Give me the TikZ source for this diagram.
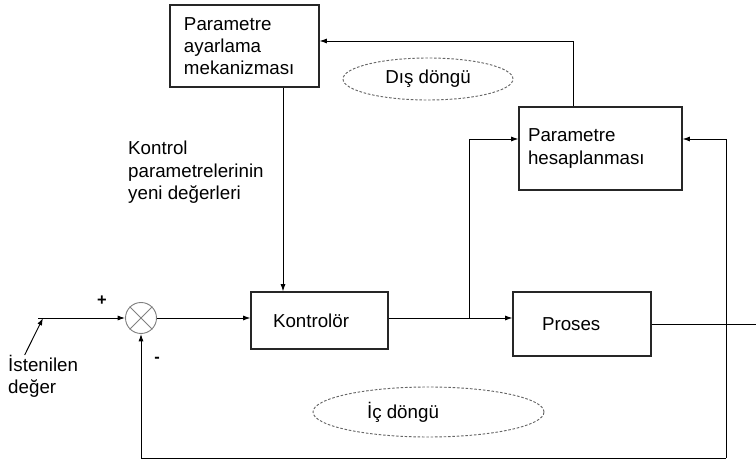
\documentclass[tikz,border=0pt]{standalone}
\usepackage{fontspec}
\setmainfont{Liberation Sans}
\usetikzlibrary{arrows.meta,shapes.geometric}

\begin{document}
\begin{tikzpicture}[x=0.03cm, y=-0.03cm, >={Latex[length=2.2mm,width=1.5mm]}]
		\tikzstyle{every node}=[font=\fontsize{16pt}{19pt}\selectfont]
		\tikzstyle{blok}=[draw=black!85, line width=0.9pt, align=left, inner ysep=0pt]
		\tikzstyle{dongu}=[draw=black!60, ellipse, dash pattern=on 2.2pt off 1.5pt, line width=0.8pt, inner sep=0pt]
		\tikzstyle{hat}=[line width=0.8pt]
		\useasboundingbox (0,0) rectangle (756,461);

		\node [blok, text width=3.63cm, inner xsep=0.42cm, minimum height=2.46cm] (ayar) at (244.5,46) {Parametre\\ayarlama\\mekanizması};
		\node [blok, text width=4.35cm, inner xsep=0.27cm, minimum height=2.49cm] (hesap) at (600.5,148.5) {Parametre\\hesaplanması};
		\node [blok, text width=2.79cm, inner xsep=0.66cm, minimum height=1.71cm] (kontrol) at (319.5,320.5) {Kontrolör};
		\node [blok, text width=2.4cm, inner xsep=0.87cm, minimum height=1.92cm] (proses) at (582,324) {Proses};
		\node [draw=gray, line width=0.8pt, circle, minimum size=0.93cm, inner sep=0pt] (sum) at (141,318) {};
		\draw [gray, line width=0.8pt] (sum.north west) -- (sum.south east);
		\draw [gray, line width=0.8pt] (sum.north east) -- (sum.south west);

		\node [dongu, minimum width=5.1cm, minimum height=1.26cm] (dis) at (428,79) {Dış döngü};
		\node [dongu, minimum width=6.93cm, minimum height=1.5cm] (ic) at (428.5,412) {İç döngü\rule{1.53cm}{0pt}};

		\node [anchor=north west, align=left, inner sep=0pt] (yeni) at (128,141) {Kontrol\\parametrelerinin\\yeni değerleri};
		\node [anchor=north west, align=left, inner sep=0pt] (istenilen) at (8,355) {İstenilen\\değer};
		\node [font=\fontsize{14pt}{16pt}\selectfont\bfseries] (arti) at (102,301) {+};
		\node [font=\fontsize{14pt}{16pt}\selectfont\bfseries] (eksi) at (157,360) {-};

		\coordinate (giris) at (38,318);
		\coordinate (ayrim) at (469,318);
		\coordinate (sag) at (726,458);
		\coordinate (cikis) at (756,324);

		\draw [hat, ->] (giris) -- (sum);
		\draw [hat, ->] ([xshift=0.5cm]istenilen.north west) -- ([xshift=0.15cm]giris);
		\draw [hat, ->] (sum) -- (sum -| kontrol.west);
		\draw [hat] (kontrol.east |- ayrim) -- (ayrim);
		\draw [hat, ->] (ayrim) -- (ayrim -| proses.west);
		\draw [hat, ->] (ayrim) |- ([yshift=0.285cm]hesap.west);
		\draw [hat] (proses.east) -- (cikis);
		\draw [hat, ->] (sag) |- ([yshift=0.285cm]hesap.east);
		\draw [hat, ->] (sag) -| (sum.south);
		\draw [hat, ->] ([xshift=-0.825cm]hesap.north) |- ([yshift=0.15cm]ayar.east);
		\draw [hat, ->] ([xshift=1.155cm]ayar.south) -- ([xshift=1.155cm]ayar.south |- kontrol.north);
	\end{tikzpicture}
\end{document}
